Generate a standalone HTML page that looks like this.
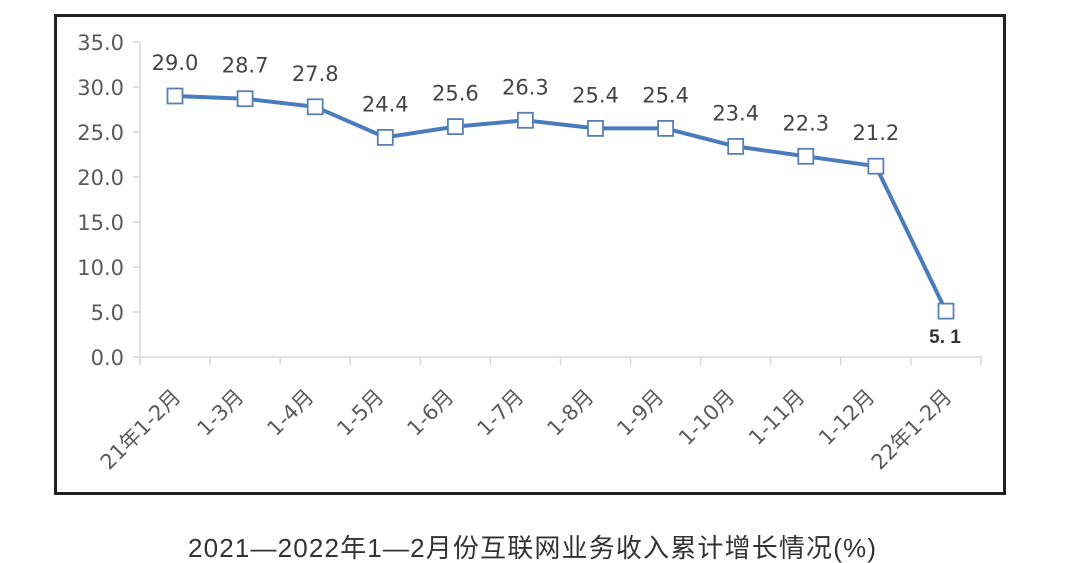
<!DOCTYPE html>
<html><head><meta charset="utf-8"><style>
html,body{margin:0;padding:0;background:#fff;}
svg{display:block;}
</style></head><body>
<svg width="1080" height="563" viewBox="0 0 1080 563" xmlns="http://www.w3.org/2000/svg">
<rect x="0" y="0" width="1080" height="563" fill="#fff"/>
<rect x="55.5" y="15.5" width="949" height="478" fill="#fff" stroke="#222" stroke-width="3"/>
<g stroke="#d9d9d9" stroke-width="1.5" fill="none">
<line x1="140" y1="42" x2="140" y2="357"/>
<line x1="133" y1="357" x2="982" y2="357"/>
<line x1="133" y1="42" x2="140" y2="42"/>
<line x1="133" y1="87" x2="140" y2="87"/>
<line x1="133" y1="132" x2="140" y2="132"/>
<line x1="133" y1="177" x2="140" y2="177"/>
<line x1="133" y1="222" x2="140" y2="222"/>
<line x1="133" y1="267" x2="140" y2="267"/>
<line x1="133" y1="312" x2="140" y2="312"/>
<line x1="140" y1="357" x2="140" y2="365"/>
<line x1="210.1" y1="357" x2="210.1" y2="365"/>
<line x1="280.2" y1="357" x2="280.2" y2="365"/>
<line x1="350.2" y1="357" x2="350.2" y2="365"/>
<line x1="420.3" y1="357" x2="420.3" y2="365"/>
<line x1="490.4" y1="357" x2="490.4" y2="365"/>
<line x1="560.5" y1="357" x2="560.5" y2="365"/>
<line x1="630.6" y1="357" x2="630.6" y2="365"/>
<line x1="700.6" y1="357" x2="700.6" y2="365"/>
<line x1="770.7" y1="357" x2="770.7" y2="365"/>
<line x1="840.8" y1="357" x2="840.8" y2="365"/>
<line x1="910.9" y1="357" x2="910.9" y2="365"/>
<line x1="981" y1="357" x2="981" y2="365"/>
</g>
<g font-family="'DejaVu Sans', 'Liberation Sans', sans-serif" font-size="21" fill="#5a5a5a" text-anchor="end">
<text x="124" y="50">35.0</text>
<text x="124" y="95">30.0</text>
<text x="124" y="140">25.0</text>
<text x="124" y="185">20.0</text>
<text x="124" y="230">15.0</text>
<text x="124" y="275">10.0</text>
<text x="124" y="320">5.0</text>
<text x="124" y="365">0.0</text>
</g>
<g font-family="'DejaVu Sans', 'Noto Sans CJK SC', sans-serif" font-size="21" fill="#5a5a5a" text-anchor="end">
<text transform="translate(182,398) rotate(-45)">21年1-2月</text>
<text transform="translate(245,398) rotate(-45)">1-3月</text>
<text transform="translate(315,398) rotate(-45)">1-4月</text>
<text transform="translate(385,398) rotate(-45)">1-5月</text>
<text transform="translate(455,398) rotate(-45)">1-6月</text>
<text transform="translate(525,398) rotate(-45)">1-7月</text>
<text transform="translate(595,398) rotate(-45)">1-8月</text>
<text transform="translate(665,398) rotate(-45)">1-9月</text>
<text transform="translate(736,398) rotate(-45)">1-10月</text>
<text transform="translate(806,398) rotate(-45)">1-11月</text>
<text transform="translate(876,398) rotate(-45)">1-12月</text>
<text transform="translate(953,398) rotate(-45)">22年1-2月</text>
</g>
<polyline fill="none" stroke="#4a7bbb" stroke-width="4" stroke-linejoin="round" points="175,96 245.1,98.7 315.2,106.8 385.3,137.4 455.4,126.6 525.4,120.3 595.5,128.4 665.6,128.4 735.7,146.4 805.8,156.3 875.9,166.2 946,311.1"/>
<g fill="#fff" stroke="#5a80b3" stroke-width="1.8">
<rect x="167.5" y="88.5" width="15" height="15"/>
<rect x="237.6" y="91.2" width="15" height="15"/>
<rect x="307.7" y="99.3" width="15" height="15"/>
<rect x="377.8" y="129.9" width="15" height="15"/>
<rect x="447.9" y="119.1" width="15" height="15"/>
<rect x="517.9" y="112.8" width="15" height="15"/>
<rect x="588" y="120.9" width="15" height="15"/>
<rect x="658.1" y="120.9" width="15" height="15"/>
<rect x="728.2" y="138.9" width="15" height="15"/>
<rect x="798.3" y="148.8" width="15" height="15"/>
<rect x="868.4" y="158.7" width="15" height="15"/>
<rect x="938.5" y="303.6" width="15" height="15"/>
</g>
<g font-family="'DejaVu Sans', 'Liberation Sans', sans-serif" font-size="21" fill="#444" text-anchor="middle">
<text x="175" y="70">29.0</text>
<text x="245.1" y="72.7">28.7</text>
<text x="315.2" y="80.8">27.8</text>
<text x="385.3" y="111.4">24.4</text>
<text x="455.4" y="100.6">25.6</text>
<text x="525.4" y="94.3">26.3</text>
<text x="595.5" y="102.4">25.4</text>
<text x="665.6" y="102.4">25.4</text>
<text x="735.7" y="120.4">23.4</text>
<text x="805.8" y="130.3">22.3</text>
<text x="875.9" y="140.2">21.2</text>
</g>
<text x="945" y="343" font-family="'Liberation Sans', sans-serif" font-weight="bold" font-size="19" fill="#333" text-anchor="middle" xml:space="preserve">5. 1</text>
<text x="188" y="557" font-family="'Liberation Sans', 'Noto Sans CJK SC', sans-serif" font-size="26" fill="#333" textLength="688" lengthAdjust="spacing">2021—2022年1—2月份互联网业务收入累计增长情况(%)</text>
</svg>
</body></html>
